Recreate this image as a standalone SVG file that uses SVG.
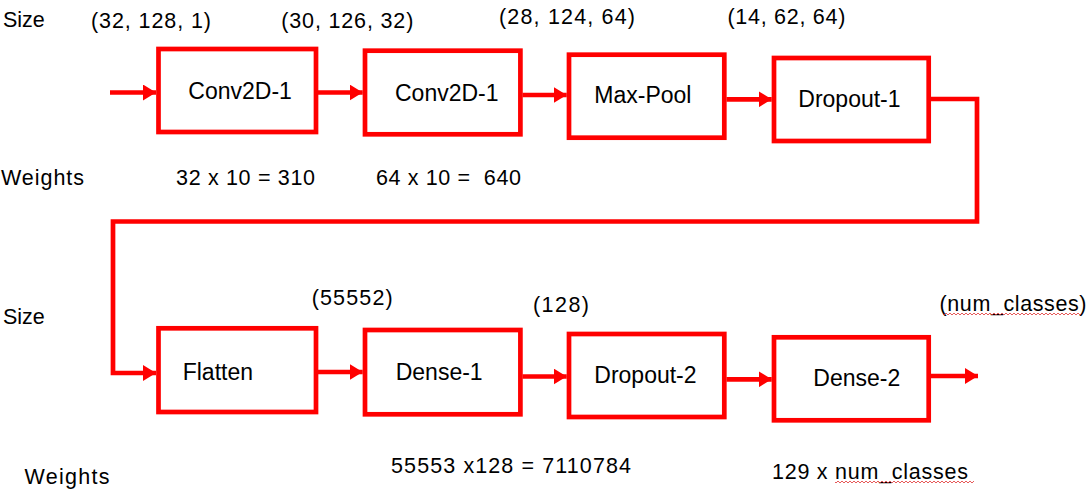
<svg xmlns="http://www.w3.org/2000/svg" width="1089" height="491" viewBox="0 0 1089 491">
  <style>
    .box { fill: #ffffff; stroke: #ff0000; stroke-width: 4.7; }
    .lbl { font-family: "Liberation Sans", Arial, sans-serif; font-size: 23px; fill: #000000; }
    .ann { font-family: "Liberation Sans", Arial, sans-serif; font-size: 21.5px; fill: #000000; }
    .conn { fill: none; stroke: #ff0000; stroke-width: 4.7; stroke-linejoin: miter; }
  </style>
  <defs>
    <marker id="ah" markerWidth="14" markerHeight="16" refX="13" refY="8" orient="auto" markerUnits="userSpaceOnUse">
      <path d="M0,0 L13,8 L0,16 z" fill="#ff0000"/>
    </marker>
    <pattern id="wave" width="4" height="4" patternUnits="userSpaceOnUse">
      <path d="M0,3 L2,1 L4,3" stroke="#e03030" fill="none" stroke-width="0.8"/>
    </pattern>
  </defs>
  <rect width="1089" height="491" fill="#ffffff"/>

  <g id="connectors">
    <line class="conn" x1="110" y1="92.5" x2="156" y2="92.5" marker-end="url(#ah)"/>
    <line class="conn" x1="318" y1="92.5" x2="362.7" y2="92.5" marker-end="url(#ah)"/>
    <line class="conn" x1="522.5" y1="95" x2="566.7" y2="95" marker-end="url(#ah)"/>
    <line class="conn" x1="726.5" y1="99.3" x2="771.7" y2="99.3" marker-end="url(#ah)"/>
    <polyline class="conn" points="931,99 977,99 977,221.5 113,221.5 113,373 156,373" marker-end="url(#ah)"/>
    <line class="conn" x1="318" y1="372" x2="362.7" y2="372" marker-end="url(#ah)"/>
    <line class="conn" x1="522.5" y1="376.5" x2="566.7" y2="376.5" marker-end="url(#ah)"/>
    <line class="conn" x1="726.5" y1="379.3" x2="771.7" y2="379.3" marker-end="url(#ah)"/>
    <line class="conn" x1="931" y1="376" x2="978" y2="376" marker-end="url(#ah)"/>
  </g>

  <g id="conv2d-1a">
    <rect class="box" x="158.5" y="49" width="157.5" height="83"/>
    <text class="lbl" x="188.3" y="99.3">Conv2D-1</text>
  </g>
  <g id="conv2d-1b">
    <rect class="box" x="365" y="50.7" width="155.4" height="83.6"/>
    <text class="lbl" x="395" y="100.7">Conv2D-1</text>
  </g>
  <g id="maxpool">
    <rect class="box" x="569" y="54.7" width="155.3" height="83"/>
    <text class="lbl" x="594.3" y="103.3">Max-Pool</text>
  </g>
  <g id="dropout-1">
    <rect class="box" x="774" y="58" width="154.7" height="83"/>
    <text class="lbl" x="798.3" y="106.7">Dropout-1</text>
  </g>
  <g id="flatten">
    <rect class="box" x="158.5" y="328.3" width="157.5" height="83.7"/>
    <text class="lbl" x="182.7" y="380">Flatten</text>
  </g>
  <g id="dense-1">
    <rect class="box" x="365" y="330" width="155.4" height="84.3"/>
    <text class="lbl" x="395.7" y="380">Dense-1</text>
  </g>
  <g id="dropout-2">
    <rect class="box" x="569" y="334" width="155.3" height="83"/>
    <text class="lbl" x="594.3" y="383.3">Dropout-2</text>
  </g>
  <g id="dense-2">
    <rect class="box" x="774" y="337.3" width="154.7" height="83"/>
    <text class="lbl" x="813.3" y="386">Dense-2</text>
  </g>

  <g id="annotations">
    <text class="ann" x="3" y="27.3">Size</text>
    <text class="ann" x="91" y="27.5" textLength="120">(32, 128, 1)</text>
    <text class="ann" x="281.3" y="27.5" textLength="132">(30, 126, 32)</text>
    <text class="ann" x="499" y="24" textLength="136">(28, 124, 64)</text>
    <text class="ann" x="727.4" y="24" textLength="118">(14, 62, 64)</text>
    <text class="ann" x="1" y="184.5" textLength="83">Weights</text>
    <text class="ann" x="176" y="185" textLength="139">32 x 10 = 310</text>
    <text class="ann" x="376" y="184.5" textLength="145" xml:space="preserve">64 x 10 =  640</text>
    <text class="ann" x="3" y="324">Size</text>
    <text class="ann" x="311.7" y="304.5" textLength="81">(55552)</text>
    <text class="ann" x="533" y="312" textLength="56">(128)</text>
    <text class="ann" x="939.5" y="311" textLength="147">(num_classes)</text>
    <text class="ann" x="24.5" y="483.5" textLength="85">Weights</text>
    <text class="ann" x="391" y="473" textLength="240">55553 x128 = 7110784</text>
    <text class="ann" x="772" y="478.5" textLength="196">129 x num_classes</text>
    <rect x="943" y="312" width="138" height="4" fill="url(#wave)"/>
    <rect x="835" y="480" width="139" height="4" fill="url(#wave)"/>
  </g>
</svg>
